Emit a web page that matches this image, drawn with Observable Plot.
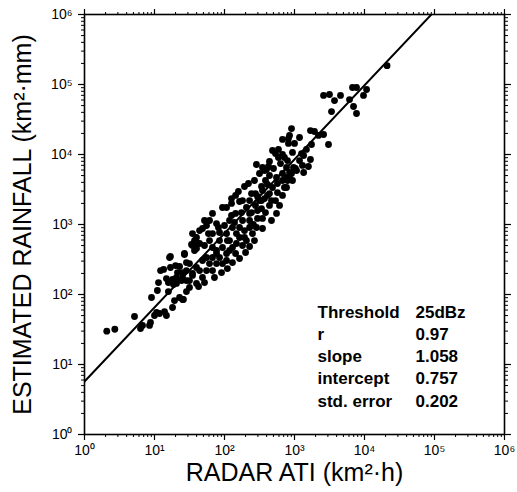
<!DOCTYPE html>
<html><head><meta charset="utf-8">
<script src="https://cdn.jsdelivr.net/npm/d3@7"></script>
<script src="https://cdn.jsdelivr.net/npm/@observablehq/plot@0.6"></script>
<style>body{margin:0;background:#fff}</style>
</head><body><div id="chart"></div>
<script>
// Radar ATI (km²·h) for each storm sample
const ati = [21000,2600,3160,3730,4540,6740,7690,10700,9680,6110,6970,7690,3380,906,849,674,1180,1000,1690,1930,
2200,2600,1750,3060,590,936,1350,1480,1690,1580,286,439,349,968,590,631,769,674,769,906,
1180,485,674,268,338,411,243,296,373,228,277,338,243,296,259,228,439,501,398,193,
220,144,126,164,93.6,107,61.1,55.3,76.9,82,59,67.4,34.9,37.3,33.8,41.1,26.8,16.4,553,674,
769,485,439,535,385,349,849,181,206,228,277,316,286,107,118,130,148,164,181,93.6,
76.9,67.4,84.9,107,130,144,126,5.18,6.31,6.74,8.77,8.49,9.06,11.4,12.2,13.5,15.8,16.9,11.8,13.9,
14.8,18.1,16.9,20,18.1,20.6,24.3,22.8,25.9,28.6,31.6,31.6,34.9,39.8,37.3,44,51.8,126,20.6,25.1,
28.6,31.6,48.5,55.3,44,48.5,39.8,61.1,67.4,76.9,84.9,93.6,67.4,55.3,76.9,51.8,61.1,107,118,148,
164,193,206,181,144,228,251,349,385,439,349,553,469,611,674,849,1030,1350,1070,1300,
42.6,51.8,71.9,90.6,110,130,164,200,228,268,15.8,22.8,26.8,19.3,25.1,28.6,21.3,158,67.4,44,
39.8,316,820,535,719,794,1260,373,794,571,425,820,11,10,10.7,18.7,28.6,25.1,34.9,14.8,
48.5,34.9,39.8,84.9,100,118,139,175,110,193,243,296,338,411,469,571,719,936,2.08,2.71];
// Estimated rainfall (km²·mm) for the same samples
const rainfall = [186000,69700,72000,59000,69700,90600,90600,84900,69700,61000,48500,38500,41100,23500,18700,16400,17500,14400,22000,21300,
18700,19300,13900,13900,11800,10700,9680,11800,8490,6740,7200,7940,6520,6520,9060,7430,6520,5350,4690,5350,
8200,11400,10000,4250,3490,3730,2770,2510,2350,2200,1870,1690,1480,1220,1000,906,5010,6310,6110,3490,
3850,2600,2350,2130,1750,1750,1140,968,1030,906,743,743,743,590,518,535,385,338,4690,4250,
3380,3380,2770,2200,4250,3060,4540,2200,1750,1440,2770,2200,906,743,590,469,743,906,1140,469,
385,469,590,385,906,1440,1350,48.5,32.7,36.1,39.8,36.1,90.6,148,220,228,110,349,53.5,57.1,
50.1,65.2,243,259,164,175,158,90.6,84.9,110,126,158,200,243,425,535,1140,2000,144,175,
220,277,306,338,220,175,144,277,338,277,338,277,220,220,425,501,590,306,425,535,
652,820,590,501,385,1140,743,1220,1480,1870,877,1440,1140,1870,2600,5530,6310,5530,5900,6970,
130,148,175,206,235,286,327,398,485,590,148,251,373,82,84.9,158,206,2960,1440,820,
652,5350,14400,10300,9060,8200,10300,5900,4250,3850,6740,16900,114,50.1,55.3,139,286,206,187,169,
877,501,454,769,968,1140,1070,1480,590,652,968,1580,2200,2600,2200,2860,3380,4250,29.9,31.9];

const majorTicks = [1, 10, 100, 1000, 10000, 100000, 1000000];
const tickLabels = ["10⁰", "10¹", "10²", "10³", "10⁴", "10⁵", "10⁶"];
const statLabels = ["Threshold", "r", "slope", "intercept", "std. error"];
const statValues = ["25dBz", "0.97", "1.058", "0.757", "0.202"];
const fitSlope = 1.058;
const fitIntercept = 0.757;
const xTitle = "RADAR ATI (km²·h)";
const yTitle = "ESTIMATED RAINFALL (km²·mm)";

const points = ati.map((x, i) => ({x, y: rainfall[i]}));
const minorTicks = d3.range(0, 6).flatMap(k => d3.range(2, 10).map(m => m * 10 ** k));
const fit = [1, 1e6].map(x => ({x, y: 10 ** fitIntercept * x ** fitSlope}));
const fmt = d => tickLabels[majorTicks.indexOf(d)] ?? "";
const none = () => "";
const font = "'Liberation Sans', Arial, Helvetica, sans-serif";

const plot = Plot.plot({
  width: 517, height: 492,
  marginLeft: 84, marginRight: 13, marginTop: 14, marginBottom: 58,
  x: {type: "log", domain: [1, 1e6]},
  y: {type: "log", domain: [1, 1e6]},
  style: {fontFamily: font, color: "#000", background: "#fff"},
  marks: [
    Plot.axisX({anchor: "bottom", ticks: majorTicks, tickSize: 6, tickPadding: 5, tickFormat: fmt, fontSize: 14, label: null, strokeWidth: 1.2}),
    Plot.axisX({anchor: "bottom", ticks: minorTicks, tickSize: 3, tickFormat: none, label: null}),
    Plot.axisX({anchor: "top", ticks: majorTicks, tickSize: 6, tickFormat: none, label: null, strokeWidth: 1.2}),
    Plot.axisX({anchor: "top", ticks: minorTicks, tickSize: 3, tickFormat: none, label: null}),
    Plot.axisY({anchor: "left", ticks: majorTicks, tickSize: 6, tickPadding: 6, tickFormat: fmt, fontSize: 14, label: null, strokeWidth: 1.2}),
    Plot.axisY({anchor: "left", ticks: minorTicks, tickSize: 3, tickFormat: none, label: null}),
    Plot.axisY({anchor: "right", ticks: majorTicks, tickSize: 6, tickFormat: none, label: null, strokeWidth: 1.2}),
    Plot.axisY({anchor: "right", ticks: minorTicks, tickSize: 3, tickFormat: none, label: null}),
    Plot.frame({stroke: "#000", strokeWidth: 1.6}),
    Plot.line(fit, {x: "x", y: "y", stroke: "#000", strokeWidth: 2, clip: true}),
    Plot.dot(points, {x: "x", y: "y", r: 3.4, fill: "#000", stroke: "none"}),
    Plot.text([statLabels.join("\n")], {frameAnchor: "top-left", dx: 233, dy: 288, lineAnchor: "top", lineHeight: 1.3, textAnchor: "start", fontSize: 17, fontWeight: "bold", fill: "#000"}),
    Plot.text([statValues.join("\n")], {frameAnchor: "top-left", dx: 331, dy: 288, lineAnchor: "top", lineHeight: 1.3, textAnchor: "start", fontSize: 17, fontWeight: "bold", fill: "#000"}),
    Plot.text([xTitle], {frameAnchor: "bottom", dy: 38, lineAnchor: "middle", textAnchor: "middle", fontSize: 25, fill: "#000"}),
    Plot.text([yTitle], {frameAnchor: "left", dx: -62, rotate: -90, lineAnchor: "middle", textAnchor: "middle", fontSize: 25, fill: "#000"})
  ]
});
document.getElementById("chart").appendChild(plot);
</script>
</body></html>
